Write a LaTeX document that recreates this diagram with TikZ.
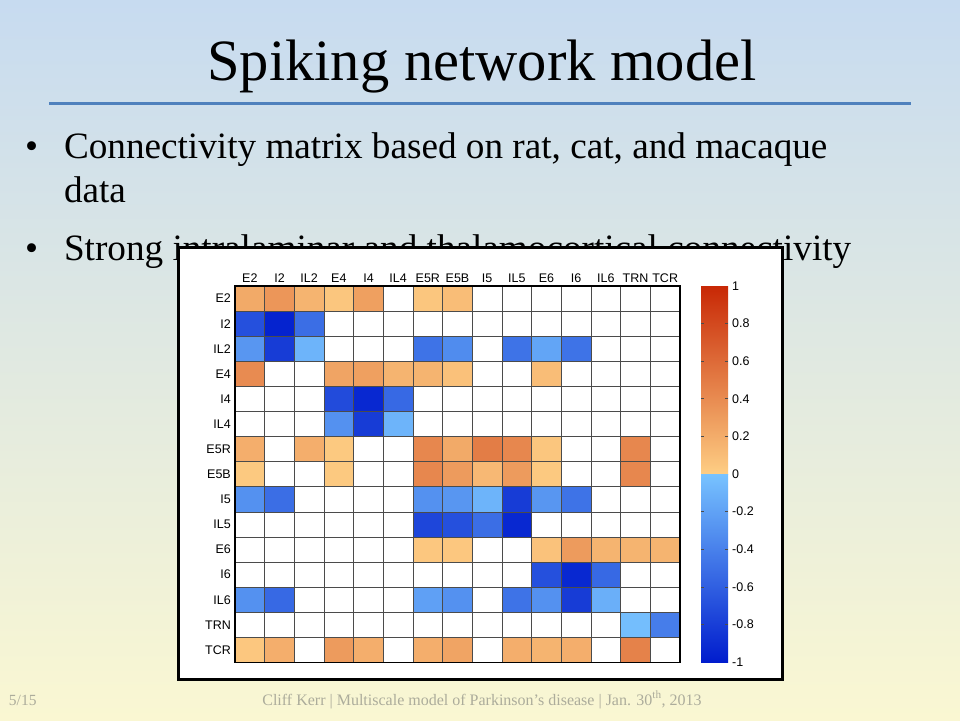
\documentclass[tikz,border=0pt]{standalone}
\usepackage{fontspec}
\setmainfont{Liberation Serif}
\newfontfamily\plotfont{Liberation Sans}
\definecolor{bgtop}{RGB}{199,219,240}
\definecolor{bgbot}{RGB}{250,247,210}
\definecolor{rulec}{RGB}{79,129,189}
\definecolor{footc}{RGB}{172,172,155}
\definecolor{chi}{RGB}{200,40,5}
\definecolor{clo}{RGB}{254,206,132}
\definecolor{bhi}{RGB}{0,28,205}
\definecolor{blo}{RGB}{120,195,255}
\definecolor{gridc}{RGB}{75,75,75}
\tikzset{
  txt/.style={inner sep=0pt, outer sep=0pt},
  bigtxt/.style={txt, anchor=base west, font=\fontsize{37.2}{40}\selectfont},
  lab/.style={inner sep=0pt, font=\plotfont\fontsize{12.5}{13}\selectfont},
  tick/.style={draw=gridc, line width=0.7pt}
}
\begin{document}
\begin{tikzpicture}[x=1pt,y=-1pt]
\useasboundingbox (0,0) rectangle (960,720);
\shade[top color=bgtop, bottom color=bgbot] (0,0) rectangle (960,720);
% title
\node[txt, anchor=base, font=\fontsize{58.5}{62}\selectfont] (title) at (482,80) {Spiking network model};
\draw[rulec, line width=3pt] (49,103) coordinate (r1) -- (911,103) coordinate (r2);
% bullets
\node[bigtxt] (b1) at (25,158) {\textbullet};
\node[bigtxt] (t1) at (64,158) {Connectivity matrix based on rat, cat, and macaque};
\node[bigtxt] (t1b) at (64,202) {data};
\node[bigtxt] (b2) at (25,260) {\textbullet};
\node[bigtxt] (t2) at (64,260) {Strong intralaminar and thalamocortical connectivity};
% footer
\node[txt, anchor=base west, text=footc, font=\fontsize{15.5}{16}\selectfont] (pg) at (9,705) {5/15};
\node[txt, anchor=base, text=footc, font=\fontsize{16}{17}\selectfont] (foot) at (482,705) {Cliff Kerr | Multiscale model of Parkinson’s disease | Jan. 30\textsuperscript{th}, 2013};
% figure box
\draw[black, line width=3pt, fill=white] (178,247) rectangle (782,679);
% positive cells
\foreach \r/\c/\p in {0/0/22,0/1/34,0/2/16,0/3/5,0/4/28,0/6/5,0/7/10,
  3/0/40,3/3/25,3/4/28,3/5/16,3/6/16,3/7/8,3/10/10,
  6/0/19,6/2/19,6/3/3,6/6/43,6/7/22,6/8/49,6/9/43,6/10/5,6/13/43,
  7/0/3,7/3/3,7/6/43,7/7/31,7/8/13,7/9/31,7/10/3,7/13/43,
  10/6/4,10/7/4,10/10/7,10/11/31,10/12/16,10/13/16,10/14/16,
  14/0/4,14/1/19,14/3/31,14/4/19,14/6/19,14/7/25,14/9/19,14/10/16,14/11/19,14/13/46}
  \fill[chi!\p!clo] ({235+\c*29.667},{286+\r*25.1}) rectangle +(29.667,25.1);
% negative cells
\foreach \r/\c/\p in {1/0/69,1/1/96,1/2/51,
  2/0/27,2/1/81,2/2/9,2/6/48,2/7/33,2/9/48,2/10/18,2/11/48,
  4/3/72,4/4/93,4/5/54,
  5/3/30,5/4/81,5/5/9,
  8/0/30,8/1/51,8/6/30,8/7/27,8/8/9,8/9/81,8/10/27,8/11/48,
  9/6/75,9/7/69,9/8/51,9/9/93,
  11/10/69,11/11/93,11/12/54,
  12/0/30,12/1/54,12/6/21,12/7/30,12/9/48,12/10/30,12/11/81,12/12/12,
  13/13/3,13/14/42}
  \fill[bhi!\p!blo] ({235+\c*29.667},{286+\r*25.1}) rectangle +(29.667,25.1);
% grid
\foreach \i in {1,...,14} {
  \draw[gridc, line width=0.8pt] ({235+\i*29.667},286) -- ({235+\i*29.667},662.5);
  \draw[gridc, line width=0.8pt] (235,{286+\i*25.1}) -- (680,{286+\i*25.1});
}
\draw[black, line width=1.2pt] (235,286) rectangle (680,662.5);
% labels
\foreach \n [count=\i from 0] in {E2,I2,IL2,E4,I4,IL4,E5R,E5B,I5,IL5,E6,I6,IL6,TRN,TCR} {
  \node[lab, anchor=base] (col\i) at ({235+(\i+0.5)*29.667},282.5) {\n};
  \node[lab, anchor=east] (row\i) at (231,{286+(\i+0.5)*25.1}) {\n};
}
% colorbar
\shade[bottom color=clo, top color=chi] (701,286) rectangle (728,474);
\shade[top color=blo, bottom color=bhi] (701,474) rectangle (728,662.5);
\foreach \v/\t in {1/1,0.8/0.8,0.6/0.6,0.4/0.4,0.2/0.2,0/0,-0.2/-0.2,-0.4/-0.4,-0.6/-0.6,-0.8/-0.8,-1/-1} {
  \node[lab, anchor=west] (cb\t) at (732,{474-\v*188.25}) {\t};
}
\foreach \v in {-0.8,-0.6,-0.4,-0.2,0.2,0.4,0.6,0.8} {
  \draw[tick] (701,{474-\v*188.25}) -- +(3,0);
  \draw[tick] (728,{474-\v*188.25}) -- +(-3,0);
}
\end{tikzpicture}
\end{document}
